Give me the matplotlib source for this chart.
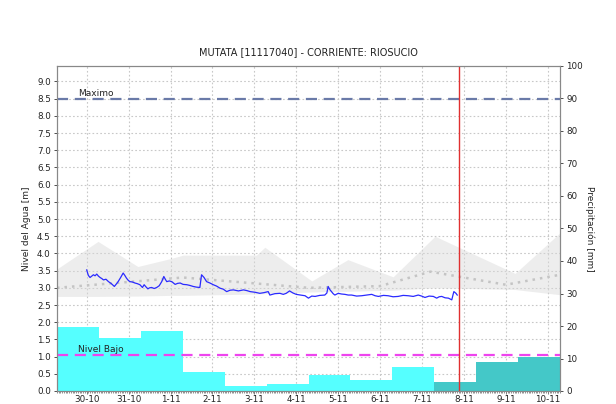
import matplotlib
matplotlib.use("Agg")
import matplotlib.pyplot as plt
import numpy as np

# ---------------- data ----------------
title = "MUTATA [11117040] - CORRIENTE: RIOSUCIO"
day_labels = ["30-10", "31-10", "1-11", "2-11", "3-11", "4-11", "5-11",
              "6-11", "7-11", "8-11", "9-11", "10-11"]
# day 0 = 30-10 00:00 ; precipitation periods run 07:00 -> 07:00
precip_start_day = [-17/24 + k for k in range(12)]
precip_mm = [19.8, 16.2, 18.4, 5.9, 1.6, 2.2, 4.9, 3.5, 7.5, 2.9, 8.9, 10.6]
precip_forecast = [False]*9 + [True]*3

level_day = [0.00, 0.04, 0.08, 0.12, 0.16, 0.20, 0.24, 0.28, 0.32, 0.36, 0.40, 0.46,
             0.52, 0.59, 0.66, 0.70, 0.75, 0.81, 0.87, 0.91, 0.95, 0.99, 1.03, 1.09,
             1.15, 1.21, 1.27, 1.33, 1.37, 1.42, 1.46, 1.50, 1.55, 1.61, 1.67, 1.73,
             1.79, 1.84, 1.88, 1.91, 1.97, 2.03, 2.07, 2.11, 2.17, 2.23, 2.30, 2.39,
             2.46, 2.54, 2.62, 2.70, 2.74, 2.80, 2.86, 2.94, 3.02, 3.10, 3.18, 3.26,
             3.34, 3.42, 3.50, 3.62, 3.74, 3.82, 3.90, 4.02, 4.13, 4.23, 4.33, 4.37,
             4.49, 4.61, 4.69, 4.76, 4.84, 4.92, 5.00, 5.10, 5.21, 5.29, 5.37, 5.45,
             5.56, 5.68, 5.73, 5.76, 5.80, 5.84, 5.88, 5.92, 6.00, 6.08, 6.16, 6.24,
             6.32, 6.44, 6.56, 6.68, 6.80, 6.88, 6.96, 7.08, 7.19, 7.31, 7.43, 7.55,
             7.67, 7.79, 7.91, 7.99, 8.07, 8.17, 8.27, 8.35, 8.41, 8.47, 8.55, 8.63,
             8.71, 8.74, 8.76, 8.81, 8.84]
level_m = [3.52, 3.36, 3.30, 3.34, 3.38, 3.35, 3.40, 3.34, 3.30, 3.27, 3.23, 3.25,
           3.18, 3.12, 3.04, 3.10, 3.18, 3.30, 3.43, 3.36, 3.28, 3.22, 3.18, 3.17,
           3.14, 3.12, 3.09, 3.01, 3.09, 3.02, 2.97, 3.00, 3.01, 2.98, 3.01, 3.06,
           3.18, 3.33, 3.24, 3.18, 3.20, 3.18, 3.14, 3.10, 3.13, 3.14, 3.10, 3.09,
           3.07, 3.04, 3.02, 3.01, 3.38, 3.30, 3.18, 3.14, 3.09, 3.05, 2.99, 2.96,
           2.89, 2.93, 2.94, 2.91, 2.94, 2.92, 2.89, 2.87, 2.84, 2.86, 2.89, 2.79,
           2.83, 2.84, 2.81, 2.84, 2.91, 2.85, 2.81, 2.79, 2.77, 2.70, 2.76, 2.75,
           2.78, 2.79, 2.85, 3.04, 2.95, 2.89, 2.83, 2.79, 2.84, 2.82, 2.81, 2.79,
           2.79, 2.76, 2.77, 2.79, 2.81, 2.77, 2.75, 2.78, 2.77, 2.74, 2.75, 2.78,
           2.77, 2.75, 2.79, 2.76, 2.72, 2.76, 2.75, 2.70, 2.74, 2.75, 2.71, 2.70,
           2.65, 2.80, 2.89, 2.84, 2.79]

band_day = [-17/24, 0.27, 1.22, 2.0, 2.3, 4.05, 4.25, 5.37, 6.23, 7.31, 8.31,
            10.22, 11 + 7/24]
band_upper = [3.55, 4.35, 3.62, 3.85, 3.95, 3.95, 4.18, 3.20, 3.82, 3.32, 4.50,
              3.42, 4.60]
band_lower = [2.75, 2.75, 2.76, 2.78, 2.78, 2.82, 2.83, 2.88, 2.90, 2.93, 3.00,
              2.95, 2.80]
median_day = [-17/24, 2.3, 3.0, 5.3, 7.0, 8.2, 9.0, 10.0, 11 + 7/24]
median_m = [3.00, 3.30, 3.23, 3.00, 3.05, 3.47, 3.30, 3.09, 3.38]

nivel_maximo = 8.5
nivel_bajo = 1.05
now_day = 8.89

# ---------------- figure ----------------
plt.rcParams['font.family'] = ['DejaVu Sans']
fig = plt.figure(figsize=(6.16, 4.04), dpi=100)
ax = fig.add_axes([57/616, 1 - 391/404, (560 - 57)/616, (391 - 66)/404])
ax2 = ax.twinx()

x0, x1 = -17/24, 11 + 7/24
ax.set_xlim(x0, x1)
ax.set_ylim(0, 9.45)
ax2.set_ylim(0, 100)

# grid
ax.set_axisbelow(True)
ax.grid(True, color="#c8c8c8", linestyle=(0, (1.5, 2.0)), linewidth=0.8)

# precipitation bars (drawn in right-axis units)
for s, v, f in zip(precip_start_day, precip_mm, precip_forecast):
    ax.bar(s, v, width=1.0, align="edge", color="#44C8C8" if f else "#55FFFF",
           edgecolor="none", transform=ax2.transData, zorder=1)

# band
ax.fill_between(band_day, band_lower, band_upper, color="#d8d8d8", alpha=0.45,
                linewidth=0, zorder=2)
ax.plot(median_day, median_m, color="#c4c4c4", linestyle=(0, (1.0, 2.0)),
        linewidth=1.8, zorder=2.5)

# level line
ax.plot(level_day, level_m, color="#2a2aff", linewidth=0.9, zorder=4)

# reference lines
ax.axhline(nivel_maximo, color="#6a7aa8", linestyle=(0, (5, 3)), linewidth=1.6, zorder=5)
ax.axhline(nivel_bajo, color="#ee44ee", linestyle=(0, (5, 3)), linewidth=1.6, zorder=5)
ax.text(-0.2, nivel_maximo + 0.02, "Maximo", fontsize=6.5, color="#222222",
        va="bottom", ha="left", zorder=6)
ax.text(-0.2, nivel_bajo + 0.02, "Nivel Bajo", fontsize=6.5, color="#222222",
        va="bottom", ha="left", zorder=6)
ax.axvline(now_day, color="#e03030", linewidth=1.0, zorder=6)

# ticks
ax.set_xticks(range(len(day_labels)))
ax.set_xticklabels(day_labels)
ax.set_xticks(np.arange(-17, 24*11 + 8, 1) / 24, minor=True)
ax.set_yticks(np.arange(0, 9.01, 0.5))
ax.set_yticklabels([f"{v:.1f}" for v in np.arange(0, 9.01, 0.5)])
ax2.set_yticks(range(0, 101, 10))

for a in (ax, ax2):
    a.tick_params(axis="both", labelsize=6.3, colors="#333333", length=2.5,
                  width=0.6, pad=2, direction="out")
    for sp in a.spines.values():
        sp.set_color("#888888")
        sp.set_linewidth(0.8)
ax.tick_params(axis="x", which="minor", length=1.5, width=0.5, color="#666666")
ax.tick_params(axis="x", which="major", length=2, pad=1, color="#666666",
               labelcolor="#222222")
ax.tick_params(axis="y", labelcolor="#222222")
ax2.tick_params(axis="y", labelcolor="#222222")

ax.set_ylabel("Nivel del Agua [m]", fontsize=6.5, labelpad=4, color="#222222")
ax2.set_ylabel("Precipitación [mm]", fontsize=6.5, rotation=-90, labelpad=8,
               color="#222222")
ax.set_title(title, fontsize=7, color="#222222", pad=8)

fig.savefig("out.png", dpi=100)
